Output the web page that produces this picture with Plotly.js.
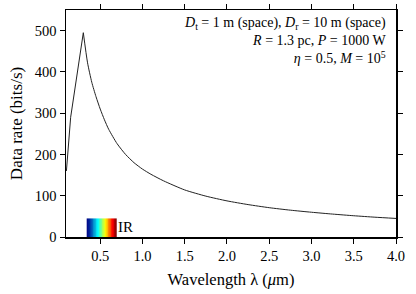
<!DOCTYPE html>
<html>
<head>
<meta charset="utf-8">
<script src="https://cdn.plot.ly/plotly-3.0.1.min.js"></script>
<style>html,body{margin:0;padding:0;background:#fff;}#chart{width:416px;height:294px;}</style>
</head>
<body>
<div id="chart"></div>
<script>
// Rising part (micrometres, bits/s)
const riseWavelength = [0.1, 0.15, 0.3];
const riseRate       = [160, 290, 495];
// Decaying part after the peak
const fallWavelength = [0.3, 0.35, 0.4, 0.45, 0.5, 0.55, 0.6, 0.7, 0.8, 0.9, 1.0, 1.1, 1.25, 1.5, 1.75, 2.0, 2.25, 2.5, 2.75, 3.0, 3.25, 3.5, 3.75, 4.0];
const fallRate       = [495, 422, 375, 340, 310, 284, 261, 226, 200, 180, 164.5, 152, 136, 114, 99, 87.5, 78.5, 71, 65, 60, 55.5, 51.5, 48, 45];

// Visible spectrum bar (micrometres) and its height (bits/s)
const specStart = 0.34;
const specEnd = 0.69;
const specTop = 45;
const specSteps = 40;
const irLabel = "IR";

const infoLines = [
  "<i>D</i><sub>t</sub> = 1 m (space), <i>D</i><sub>r</sub> = 10 m (space)",
  "<i>R</i> = 1.3 pc, <i>P</i> = 1000 W",
  "<i>η</i> = 0.5, <i>M</i> = 10<sup>5</sup>"
];

const specX = [], specZ = [];
for (let i = 0; i <= specSteps; i++) specX.push(specStart + (specEnd - specStart) * i / specSteps);
for (let i = 0; i < specSteps; i++) specZ.push(i / (specSteps - 1));

const font = "Liberation Serif, Times New Roman, serif";

const traces = [
  {
    type: "heatmap",
    x: specX,
    y: [0, specTop],
    z: [specZ],
    colorscale: "Jet",
    showscale: false,
    hoverinfo: "skip"
  },
  {
    type: "scatter", mode: "lines",
    x: riseWavelength, y: riseRate,
    line: {color: "#222", width: 1},
    hoverinfo: "skip"
  },
  {
    type: "scatter", mode: "lines",
    x: fallWavelength, y: fallRate,
    line: {color: "#222", width: 1, shape: "spline", smoothing: 0.6},
    hoverinfo: "skip"
  }
];

const layout = {
  width: 416, height: 294,
  margin: {l: 66, r: 20, t: 10, b: 57},
  paper_bgcolor: "#fff", plot_bgcolor: "#fff",
  showlegend: false,
  font: {family: font, size: 14, color: "#000"},
  xaxis: {
    range: [0.095, 4.0],
    tick0: 0, dtick: 0.5, tickformat: ".1f",
    ticks: "outside", ticklen: 5, tickwidth: 1, tickcolor: "#000",
    showline: true, linecolor: "#000", linewidth: 1.5, mirror: "ticks",
    showgrid: false, zeroline: false,
    tickfont: {family: font, size: 14.5},
    title: {text: "Wavelength λ (<i>μ</i>m)", font: {family: font, size: 16.5}, standoff: 10}
  },
  yaxis: {
    range: [0, 550],
    tick0: 0, dtick: 100,
    ticks: "outside", ticklen: 5, tickwidth: 1, tickcolor: "#000",
    showline: true, linecolor: "#000", linewidth: 1.5, mirror: "ticks",
    showgrid: false, zeroline: false,
    tickfont: {family: font, size: 14.5},
    title: {text: "Data rate (bits/s)", font: {family: font, size: 17}, standoff: 8}
  },
  annotations: [
    {
      xref: "paper", yref: "paper", x: 0.976, y: 0.985,
      xanchor: "right", yanchor: "top", align: "right",
      text: infoLines.join("<br>"), showarrow: false,
      font: {family: font, size: 14, color: "#000"}
    },
    {
      xref: "x", yref: "y", x: specEnd, y: 0,
      xanchor: "left", yanchor: "bottom",
      text: irLabel, showarrow: false,
      font: {family: font, size: 15, color: "#000"}
    }
  ]
};

Plotly.newPlot("chart", traces, layout, {staticPlot: true, displayModeBar: false});
</script>
</body>
</html>
